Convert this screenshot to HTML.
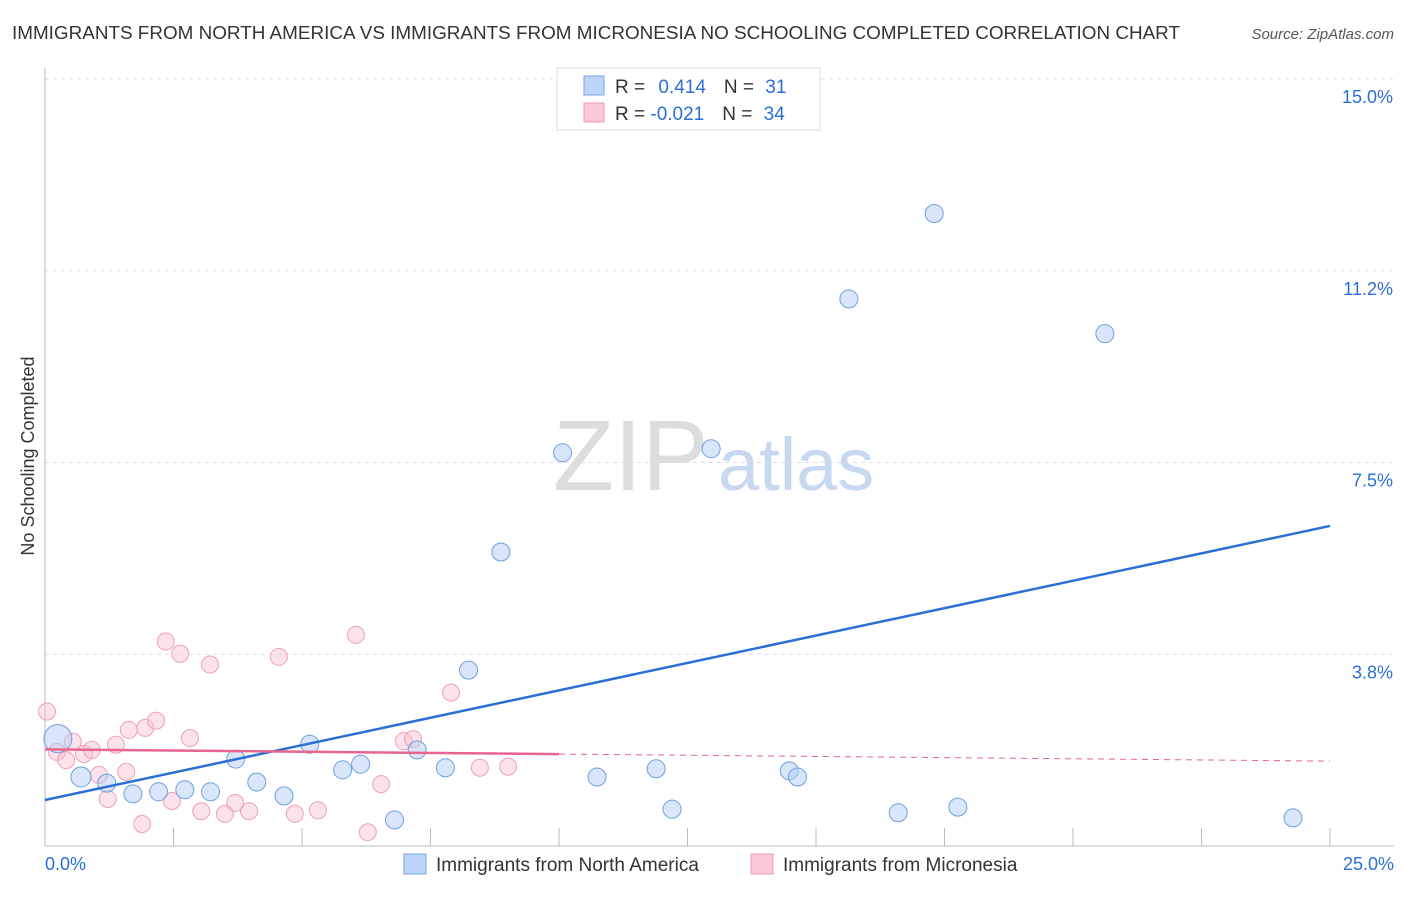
<!DOCTYPE html>
<html><head><meta charset="utf-8"><style>
body{margin:0;background:#fff;font-family:"Liberation Sans",sans-serif;}
svg text{font-family:"Liberation Sans",sans-serif;}
</style></head><body>
<svg id="c" width="1406" height="892">
<text x="12" y="39" font-size="18" fill="#333" textLength="1168" lengthAdjust="spacingAndGlyphs">IMMIGRANTS FROM NORTH AMERICA VS IMMIGRANTS FROM MICRONESIA NO SCHOOLING COMPLETED CORRELATION CHART</text>
<text x="1394" y="39" font-size="15" fill="#555" font-style="italic" text-anchor="end">Source: ZipAtlas.com</text>
<text x="553" y="490" font-size="100" fill="#ddd" font-family="Liberation Serif">ZIP</text>
<text x="718" y="490" font-size="74" fill="#c8d8f0">atlas</text>
<text x="34" y="456" font-size="18" fill="#333" text-anchor="middle" transform="rotate(-90 34 456)">No Schooling Completed</text>
<g id="grid"></g><g id="pts"></g>
<g>
<rect x="557" y="68" width="263" height="62" fill="#fff" stroke="#ddd"/>
<rect x="584" y="76" width="20" height="19" fill="#bcd4f5" stroke="#7aa6e6"/>
<rect x="584" y="103" width="20" height="19" fill="#fac8d6" stroke="#ee9ab4"/>
<text x="615" y="93" font-size="19" fill="#333">R = <tspan fill="#2a6fd6" dx="8">0.414</tspan><tspan dx="18" fill="#333">N = </tspan><tspan fill="#2a6fd6" dx="6">31</tspan></text>
<text x="615" y="120" font-size="19" fill="#333">R = <tspan fill="#2a6fd6">-0.021</tspan><tspan dx="18" fill="#333">N = </tspan><tspan fill="#2a6fd6" dx="6">34</tspan></text>
</g>
<g>
<rect x="404" y="854" width="22" height="20" fill="#bcd4f5" stroke="#7aa6e6"/>
<text x="436" y="871" font-size="19" fill="#333">Immigrants from North America</text>
<rect x="751" y="854" width="22" height="20" fill="#fac8d6" stroke="#ee9ab4"/>
<text x="783" y="871" font-size="19" fill="#333">Immigrants from Micronesia</text>
</g>
</svg>
<script>
const yTicks=[15.0,11.25,7.5,3.75];
const yTickLabels=["15.0%","11.2%","7.5%","3.8%"];
const blueX=[0.25,0.7,1.2,1.71,2.21,2.72,3.22,3.71,4.12,4.65,5.15,5.79,6.14,6.8,7.24,7.79,8.24,8.87,10.07,10.74,11.89,12.2,12.96,14.48,14.64,15.64,16.6,17.3,17.76,20.62,24.28];
const blueY=[2.10,1.35,1.23,1.02,1.06,1.10,1.06,1.70,1.25,0.98,1.99,1.49,1.60,0.51,1.88,1.53,3.44,5.75,7.69,1.35,1.51,0.72,7.77,1.47,1.35,10.70,0.65,12.37,0.76,10.02,0.55];
const blueR=[14,10,9,9,9,9,9,9,9,9,9,9,9,9,9,9,9,9,9,9,9,9,9,9,9,9,9,9,9,9,9];
const pinkX=[0.04,0.23,0.41,0.54,0.76,0.91,1.05,1.22,1.38,1.58,1.63,1.89,1.95,2.16,2.35,2.47,2.63,2.82,3.04,3.21,3.5,3.7,3.97,4.55,4.86,5.31,6.05,6.28,6.54,6.98,7.16,7.9,8.46,9.01];
const pinkY=[2.63,1.84,1.68,2.04,1.80,1.88,1.39,0.92,1.98,1.45,2.27,0.43,2.31,2.45,4.00,0.88,3.76,2.11,0.68,3.55,0.63,0.84,0.68,3.70,0.63,0.70,4.13,0.27,1.21,2.05,2.09,3.00,1.53,1.55];
const blueTrend=[0,0.9,25,6.26];
const pinkTrend=[0,1.89,25,1.66];
const X=v=>45+v/25*1285, Y=v=>846-v*51.13;
const NS="http://www.w3.org/2000/svg";
function mk(t,a,p){const e=document.createElementNS(NS,t);for(const k in a)e.setAttribute(k,a[k]);p.appendChild(e);return e;}
const g=document.getElementById('grid'),pts=document.getElementById('pts');
yTicks.forEach((t,i)=>{
 const l=mk('line',{x1:45,x2:1394,y1:Y(t),y2:Y(t),stroke:'#ddd','stroke-dasharray':'4,4'},g);
 
 
 const tx=mk('text',{x:1393,y:Y(t)+24,'font-size':18,fill:'#2a6fd6','text-anchor':'end'},g);tx.textContent=yTickLabels[i];
 
 
});
mk('line',{x1:45,x2:45,y1:68,y2:846,stroke:'#bbb'},g);
mk('line',{x1:45,x2:1394,y1:846,y2:846,stroke:'#bbb'},g);
for(let i=1;i<=10;i++){const x=X(i*2.5);mk('line',{x1:x,x2:x,y1:828,y2:846,stroke:'#bbb'},g);}
let t=mk('text',{x:45,y:870,'font-size':18,fill:'#2a6fd6'},g);t.textContent='0.0%';


t=mk('text',{x:1394,y:870,'font-size':18,fill:'#2a6fd6','text-anchor':'end'},g);t.textContent='25.0%';


pinkX.forEach((x,i)=>{const c=mk('circle',{cx:X(x),cy:Y(pinkY[i]),r:8.5,fill:'rgba(248,190,208,0.45)',stroke:'#eea0b8'},pts);
 
 });
blueX.forEach((x,i)=>{const c=mk('circle',{cx:X(x),cy:Y(blueY[i]),r:blueR[i],fill:'rgba(180,206,244,0.5)',stroke:'#6f9fe0'},pts);
 
 });
let l=mk('line',{x1:X(blueTrend[0]),y1:Y(blueTrend[1]),x2:X(blueTrend[2]),y2:Y(blueTrend[3]),stroke:'#2a6fd6','stroke-width':2.5},pts);


const pm=v=>pinkTrend[1]+(pinkTrend[3]-pinkTrend[1])*v/25;
l=mk('line',{x1:X(0),y1:Y(pm(0)),x2:X(10),y2:Y(pm(10)),stroke:'#e8668e','stroke-width':2.5},pts);


l=mk('line',{x1:X(10),y1:Y(pm(10)),x2:X(25),y2:Y(pm(25)),stroke:'#e8668e','stroke-width':1,'stroke-dasharray':'6,5'},pts);


</script>
</body></html>
